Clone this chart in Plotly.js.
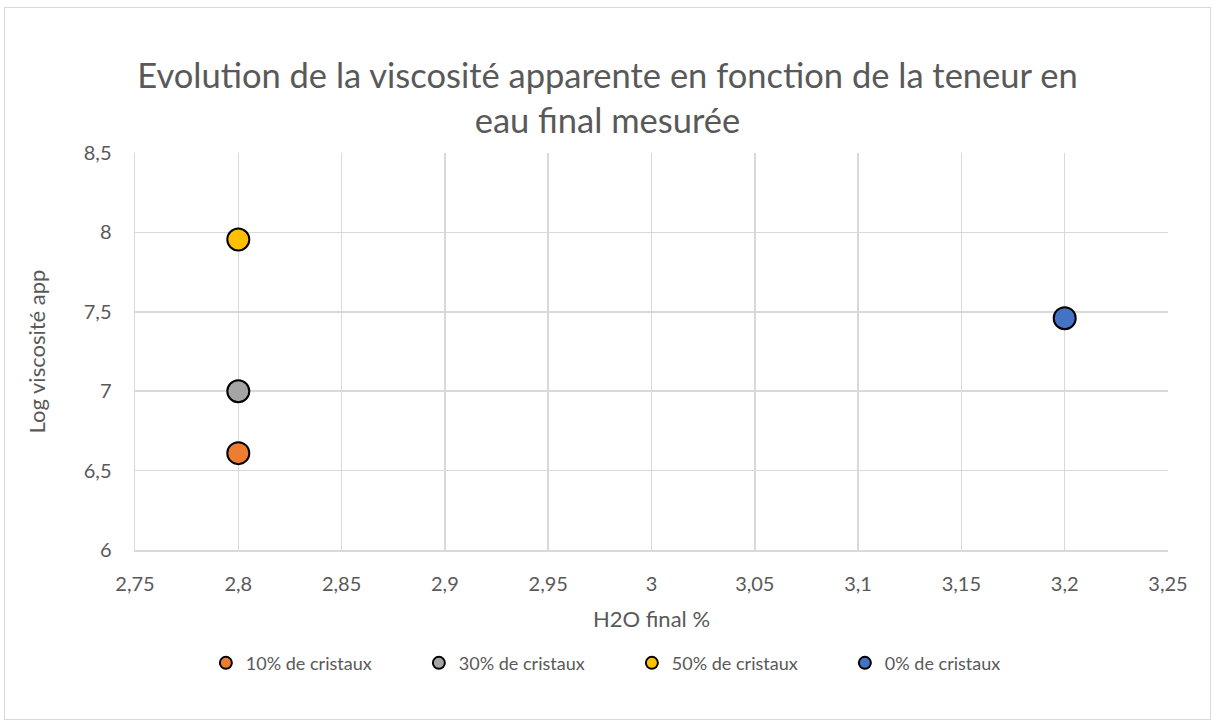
<!DOCTYPE html>
<html>
<head>
<meta charset="utf-8">
<script src="https://cdn.plot.ly/plotly-3.0.1.min.js"></script>
<style>
html,body{margin:0;padding:0;background:#fff;}
#wrap{position:relative;width:1215px;height:725px;}
#chart{width:1215px;height:725px;}
#frame{position:absolute;left:4px;top:7px;width:1205px;height:711px;border:1px solid #d9d9d9;pointer-events:none;}
</style>
</head>
<body>
<div id="wrap"><div id="chart"></div><div id="frame"></div></div>
<script>
const seriesNames = ["10% de cristaux", "30% de cristaux", "50% de cristaux", "0% de cristaux"];
const seriesX = [[2.8], [2.8], [2.8], [3.2]];
const seriesY = [[6.61], [7.0], [7.955], [7.46]];
const seriesColors = ["#ED7D31", "#A5A5A5", "#FFC000", "#4472C4"];
const xTickVals = [2.75, 2.8, 2.85, 2.9, 2.95, 3, 3.05, 3.1, 3.15, 3.2, 3.25];
const xTickText = ["2,75", "2,8", "2,85", "2,9", "2,95", "3", "3,05", "3,1", "3,15", "3,2", "3,25"];
const yTickVals = [6, 6.5, 7, 7.5, 8, 8.5];
const yTickText = ["6", "6,5", "7", "7,5", "8", "8,5"];

const font = "Lato, 'Open Sans', sans-serif";
const traces = seriesNames.map((n, i) => ({
  type: "scatter", mode: "markers", name: n,
  x: seriesX[i], y: seriesY[i],
  marker: {color: seriesColors[i], size: 22, line: {color: "#000", width: 2}}
}));

const layout = {
  width: 1215, height: 725,
  paper_bgcolor: "#fff", plot_bgcolor: "#fff",
  margin: {l: 135, r: 47, t: 153, b: 175},
  font: {family: font, color: "#595959", size: 18},
  title: {text: "Evolution de la viscosité apparente en fonction de la teneur en<br>eau final mesurée",
    font: {family: font, size: 34.5, color: "#595959"}, x: 0.5, xanchor: "center",
    yref: "container", y: 0.878, yanchor: "top"},
  xaxis: {range: [2.75, 3.25], tickvals: xTickVals, ticktext: xTickText,
    showgrid: true, gridcolor: "#d9d9d9", gridwidth: 1.5, zeroline: false,
    showline: true, linecolor: "#d9d9d9", linewidth: 1.5, ticks: "",
    ticklabelstandoff: 15,
    tickfont: {size: 20, color: "#595959"},
    title: {text: "H2O final %", font: {size: 22, color: "#595959"}, standoff: 18}},
  yaxis: {range: [6, 8.5], tickvals: yTickVals, ticktext: yTickText,
    showgrid: true, gridcolor: "#d9d9d9", gridwidth: 1.5, zeroline: false,
    showline: true, linecolor: "#d9d9d9", linewidth: 1.5, ticks: "",
    ticklabelstandoff: 18,
    tickfont: {size: 20, color: "#595959"},
    title: {text: "Log viscosité app", font: {size: 22, color: "#595959"}, standoff: 32}},
  showlegend: true,
  legend: {orientation: "h", x: 0.481, xanchor: "center", y: -0.285, yanchor: "middle",
    font: {size: 18, color: "#595959"}, itemsizing: "constant", itemwidth: 30,
    entrywidth: 168, tracegroupgap: 0},
  hovermode: false
};
Plotly.newPlot("chart", traces, layout, {displayModeBar: false, staticPlot: true});
</script>
</body>
</html>
